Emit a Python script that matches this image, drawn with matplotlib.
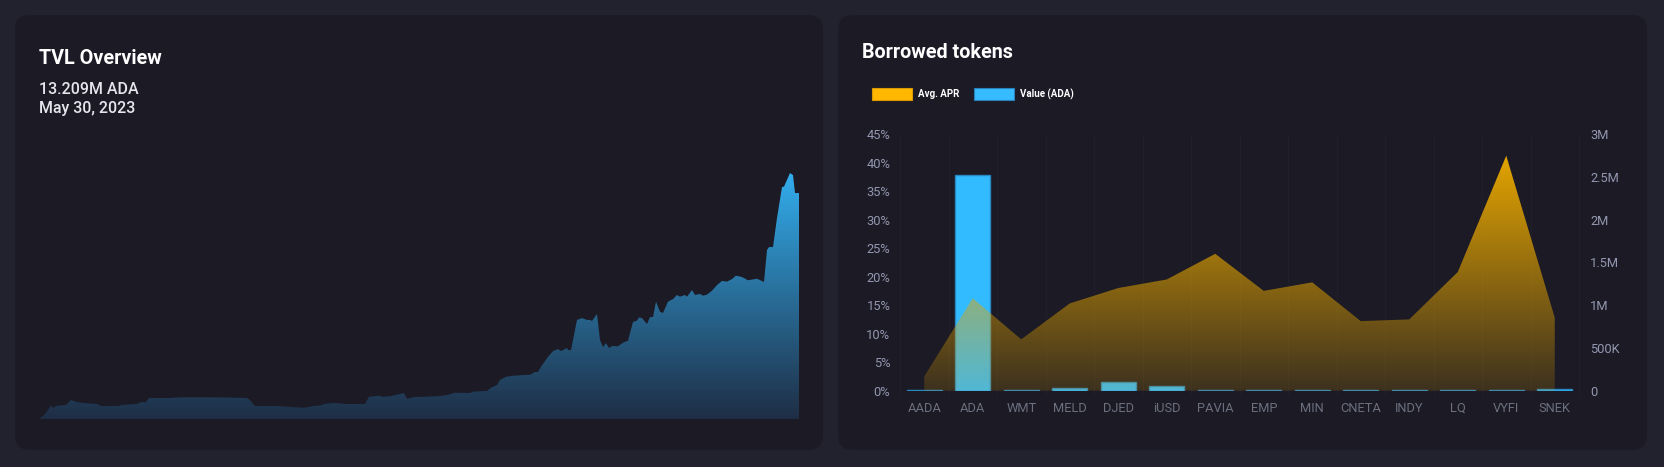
import matplotlib.pyplot as plt
import numpy as np
from matplotlib.patches import FancyBboxPatch, PathPatch, Rectangle

plt.rcParams["font.family"] = ["Roboto", "DejaVu Sans"]

W, H = 1664, 467

# TVL overview (days since first point, million ADA)
tvl_day = [0, 3, 6, 7, 9, 13.5, 16, 19, 22, 29, 31, 40, 41, 49, 51, 53.5, 55, 65.5,
           70.5, 87, 104, 105.5, 108, 119.5, 126, 133, 137, 141, 143, 148, 153, 163,
           165, 170, 172, 176, 182.5, 184, 188, 193, 199, 204, 208, 215.5, 217, 224,
           226, 229, 230.5, 233.5, 237, 245.5, 248, 249.5, 251, 254.5, 257, 259.5, 261,
           264, 264.5, 266, 269, 271.5, 274, 275.5, 276.5, 279, 280.5, 282, 283.5, 285,
           286.5, 289.5, 292, 294.5, 297, 299, 300, 301.5, 304, 305.5, 307, 308.5,
           310.5, 312, 314.5, 317, 319, 320.5, 323, 324, 326.5, 328, 330.5, 332, 334,
           336.5, 339, 341.5, 344, 346.5, 348.5, 351.5, 354.5, 359, 362.5, 364, 365,
           367, 369, 371.5, 372.5, 373.5, 375.5, 377, 378, 380]
tvl_m = [0.00, 0.29, 0.78, 0.66, 0.78, 0.82, 1.11, 0.99, 0.94, 0.88, 0.76, 0.76, 0.82,
         0.88, 0.99, 0.99, 1.23, 1.23, 1.27, 1.27, 1.23, 1.11, 0.76, 0.76, 0.70, 0.66,
         0.76, 0.80, 0.89, 0.94, 0.88, 0.88, 1.30, 1.36, 1.30, 1.34, 1.52, 1.19, 1.29,
         1.30, 1.33, 1.40, 1.54, 1.52, 1.60, 1.64, 1.83, 1.99, 2.28, 2.47, 2.53, 2.59,
         2.75, 2.75, 3.06, 3.64, 3.97, 4.09, 3.97, 4.15, 4.03, 4.03, 5.79, 5.90, 5.79,
         5.79, 5.73, 6.14, 4.62, 4.21, 4.44, 4.15, 4.27, 4.25, 4.46, 4.58, 5.67, 5.75,
         5.94, 5.90, 5.55, 5.96, 5.96, 6.86, 6.27, 6.20, 6.86, 7.01, 7.25, 7.15, 7.25,
         7.15, 7.54, 7.25, 7.31, 7.21, 7.27, 7.50, 7.83, 8.07, 8.03, 8.18, 8.38, 8.30,
         8.11, 8.20, 8.01, 9.88, 10.05, 10.05, 11.75, 13.56, 13.58, 13.85, 14.38, 14.26,
         13.21, 13.21]
tvl_total = "13.209M ADA"
tvl_date = "May 30, 2023"

# Borrowed tokens
tokens = ["AADA", "ADA", "WMT", "MELD", "DJED", "iUSD", "PAVIA", "EMP", "MIN",
          "CNETA", "INDY", "LQ", "VYFI", "SNEK"]
apr_pct = [2.5, 16.2, 9.0, 15.3, 18.0, 19.5, 24.0, 17.5, 19.0, 12.2, 12.5, 20.8, 41.2, 12.8]
value_ada = [4e3, 2.517e6, 8e3, 28e3, 105e3, 55e3, 4e3, 4e3, 10e3, 5e3, 6e3, 6e3, 8e3, 20e3]
pct_ticks = [0, 5, 10, 15, 20, 25, 30, 35, 40, 45]
value_ticks = [0, 5e5, 1e6, 1.5e6, 2e6, 2.5e6, 3e6]
value_labels = ["0", "500K", "1M", "1.5M", "2M", "2.5M", "3M"]

OUTER = "#22212e"
PANEL = "#1b1a25"


def fx(px):
    return px / W


def fy(py):
    return 1 - py / H


def gradient_area(ax, x, y, bottom_rgb, top_rgb, alpha_bottom, alpha_top, zorder):
    """Fill under y with a vertical gradient clipped to the area."""
    poly = ax.fill_between(x, y, 0, facecolor="none", edgecolor="none")
    clip = PathPatch(poly.get_paths()[0], transform=ax.transData,
                     facecolor="none", edgecolor="none")
    ax.add_patch(clip)
    t = np.linspace(0, 1, 256)[:, None]
    rgba = np.zeros((256, 1, 4))
    rgba[..., :3] = (1 - t)[..., None] * np.array(bottom_rgb) + t[..., None] * np.array(top_rgb)
    rgba[..., 3] = alpha_bottom + (alpha_top - alpha_bottom) * t
    im = ax.imshow(rgba, extent=[min(x), max(x), 0, max(y)], origin="lower",
                   aspect="auto", interpolation="bilinear", zorder=zorder)
    im.set_clip_path(clip)


fig = plt.figure(figsize=(W / 100, H / 100), dpi=100)
fig.patch.set_facecolor(OUTER)

# panels sit behind every axes
for x0, x1 in [(15, 823), (838, 1647)]:
    fig.patches.append(FancyBboxPatch(
        (fx(x0), fy(450)), fx(x1 - x0), (450 - 15) / H,
        boxstyle="round,pad=0,rounding_size=0.009", transform=fig.transFigure,
        facecolor=PANEL, edgecolor="none", mutation_aspect=W / H, zorder=-5))

# ---- TVL overview ----
ax_tvl = fig.add_axes([fx(39), fy(419), fx(760), (419 - 160) / H])
ax_tvl.set_facecolor("none")
gradient_area(ax_tvl, tvl_day, tvl_m, (0.12, 0.18, 0.27), (0.20, 0.68, 0.93), 1, 1, 2)
ax_tvl.set_xlim(0, 380)
ax_tvl.set_ylim(0, 15.14)
ax_tvl.axis("off")

fig.text(fx(39), fy(63.5), "TVL Overview", color="white", fontsize=14.2,
         fontweight="bold", va="baseline")
fig.text(fx(39), fy(93.5), tvl_total, color="#e6e6ee", fontsize=11.5,
         fontweight="medium", va="baseline")
fig.text(fx(39), fy(113.5), tvl_date, color="#e6e6ee", fontsize=11.5,
         fontweight="medium", va="baseline")

# ---- Borrowed tokens ----
ax = fig.add_axes([fx(900), fy(390.7), fx(679), 256.7 / H])
ax2 = ax.twinx()
ax.set_zorder(ax2.get_zorder() + 1)
ax.patch.set_visible(False)
ax2.patch.set_visible(False)

pos = np.arange(len(tokens))
ax2.bar(pos, value_ada, width=0.73, color="#33bbff", edgecolor="#2a88c0",
        linewidth=1, zorder=3)
ax2.vlines(np.arange(len(tokens) + 1) - 0.5, -0.016 * 3e6, 3e6, colors="#201f2a",
           linewidth=1, zorder=1, clip_on=False)
ax2.set_ylim(0, 3e6)
ax2.set_yticks(value_ticks)
ax2.set_yticklabels(value_labels)

gradient_area(ax, pos, apr_pct, (0.9, 0.65, 0.0), (0.9, 0.65, 0.0), 0.17, 1.0, 4)
ax.set_xlim(-0.5, len(tokens) - 0.5)
ax.set_ylim(0, 45)
ax.set_yticks(pct_ticks)
ax.set_yticklabels([f"{p}%" for p in pct_ticks])
ax.set_xticks(pos)
ax.set_xticklabels(tokens)

for a in (ax, ax2):
    for s in a.spines.values():
        s.set_visible(False)
ax.tick_params(axis="y", length=0, pad=7, labelsize=9.3, labelcolor="#9497b0")
ax.tick_params(axis="x", length=0, pad=8, labelsize=9.3, labelcolor="#6c6f7e")
ax2.tick_params(axis="y", length=0, pad=8, labelsize=9.3, labelcolor="#9497b0")

fig.text(fx(862), fy(58.5), "Borrowed tokens", color="white", fontsize=14.2,
         fontweight="bold", va="baseline")

# legend
for lx, label, face, edge in [(872, "Avg. APR", "#ffb700", "#d99a00"),
                              (974, "Value (ADA)", "#36bbff", "#2a80b8")]:
    fig.patches.append(Rectangle((fx(lx), fy(100)), fx(40), 12.5 / H,
                                 transform=fig.transFigure, facecolor=face,
                                 edgecolor=edge, linewidth=0.8, zorder=2))
    fig.text(fx(lx + 46), fy(94), label, color="white", fontsize=7,
             fontweight="bold", va="center")

fig.savefig("out.png", dpi=100, facecolor=OUTER)
